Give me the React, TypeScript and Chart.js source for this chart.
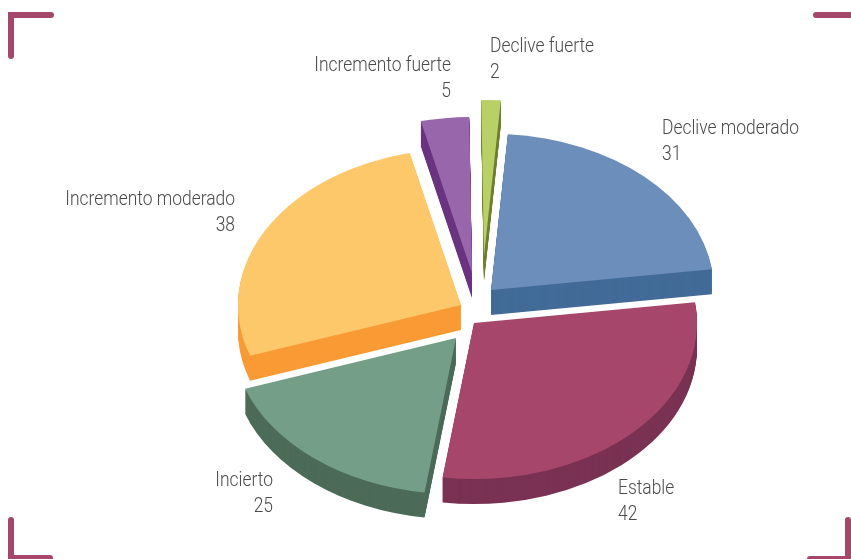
import React, { useEffect, useRef } from "react";
import { Chart, registerables } from "chart.js";

Chart.register(...registerables);

const categories = ["Declive fuerte", "Declive moderado", "Estable", "Incierto", "Incremento moderado", "Incremento fuerte"];
const values = [2, 31, 42, 25, 38, 5];
const topColors = ["#B9D067", "#6C8EBB", "#A6466B", "#749E88", "#FDC86A", "#9866AA"];
const sideColors = ["#6F7F33", "#426B98", "#7A3253", "#4C6B58", "#F99B35", "#6B3480"];
const explodeX = [12, 19, 2, -16, -11, 0];
const explodeY = [-49, -15, 18, 33, 0, -32];
const labelX = [490, 662, 618, 273, 235, 451];
const labelY = [52, 134, 494, 486, 205, 71];
const labelAlign = ["left", "left", "left", "right", "right", "right"];

const TILT = 0.7;
const DEPTH = 25;
const RADIUS = 223;
const TEXT_SQUEEZE = 0.83;
const BRAND = "#A6466B";

const piePlugin = {
  id: "pie3d",
  beforeDatasetDraw(chart: any) {
    const ctx = chart.ctx;
    const arcs = chart.getDatasetMeta(0).data;
    const path = (arc: any, i: number, drop: number) => {
      const { x, y, startAngle, endAngle, outerRadius } = arc.getProps(["x", "y", "startAngle", "endAngle", "outerRadius"], true);
      ctx.save();
      ctx.translate(x + explodeX[i], y + explodeY[i] + drop);
      ctx.scale(1, TILT);
      ctx.beginPath();
      ctx.moveTo(0, 0);
      ctx.arc(0, 0, outerRadius, startAngle, endAngle);
      ctx.closePath();
      ctx.restore();
    };
    arcs.forEach((arc: any, i: number) => {
      ctx.fillStyle = sideColors[i];
      for (let d = DEPTH; d >= 1; d--) {
        path(arc, i, d);
        ctx.fill();
      }
      ctx.fillStyle = topColors[i];
      path(arc, i, 0);
      ctx.fill();
    });
    return false;
  },
  afterDraw(chart: any) {
    const ctx = chart.ctx;
    categories.forEach((name, i) => {
      ctx.save();
      ctx.fillStyle = "#4a4a4a";
      ctx.font = "300 21px Roboto";
      ctx.textBaseline = "alphabetic";
      ctx.textAlign = labelAlign[i];
      ctx.translate(labelX[i], labelY[i]);
      ctx.scale(TEXT_SQUEEZE, 1);
      ctx.fillText(name, 0, 0);
      ctx.fillText(String(values[i]), 0, 26);
      ctx.restore();
    });
    // corner brackets
    ctx.save();
    ctx.strokeStyle = BRAND;
    ctx.lineWidth = 6;
    ctx.lineCap = "round";
    const seg = (pts: number[][]) => {
      ctx.beginPath();
      pts.forEach((p, k) => (k ? ctx.lineTo(p[0], p[1]) : ctx.moveTo(p[0], p[1])));
      ctx.stroke();
    };
    seg([[51, 15], [11, 15], [11, 56]]);
    seg([[816, 15], [860, 15]]);
    seg([[11, 520], [11, 558], [50, 558]]);
    seg([[848, 520], [848, 559], [810, 559]]);
    ctx.restore();
  },
};

export default function App() {
  const ref = useRef<HTMLCanvasElement>(null);
  useEffect(() => {
    const chart = new Chart(ref.current!, {
      type: "pie",
      data: {
        labels: categories,
        datasets: [{ data: values, backgroundColor: topColors, borderWidth: 0, radius: RADIUS }],
      },
      options: {
        responsive: false,
        animation: false,
        rotation: -0.7,
        layout: { padding: { left: 93, top: 51 } },
        plugins: { legend: { display: false }, tooltip: { enabled: false } },
      },
      plugins: [piePlugin],
    } as any);
    return () => chart.destroy();
  }, []);
  return (
    <canvas
      ref={ref}
      width={851}
      height={559}
      style={{ position: "fixed", left: 0, top: 0, display: "block", background: "#fff" }}
    />
  );
}
